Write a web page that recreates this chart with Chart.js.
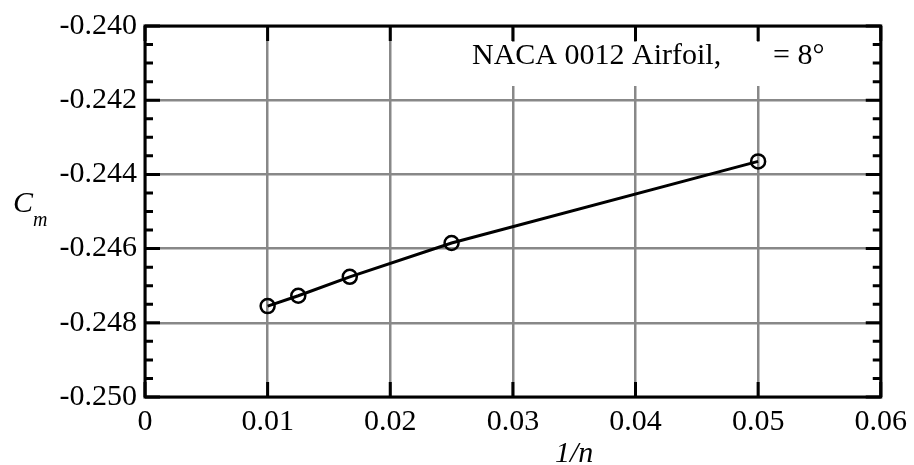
<!DOCTYPE html>
<html>
<head>
<meta charset="utf-8">
<script src="https://cdn.jsdelivr.net/npm/chart.js@4.4.0/dist/chart.umd.min.js"></script>
<style>
  html, body { margin: 0; padding: 0; background: #fff; }
</style>
</head>
<body>
<canvas id="cmChart" width="914" height="465"></canvas>
<script>
// Cm convergence against 1/n
const invN = [0.01, 0.0125, 0.0167, 0.025, 0.05];
const cmValues = [-0.24755, -0.24727, -0.24676, -0.24585, -0.24365];
const xTicks = [0, 0.01, 0.02, 0.03, 0.04, 0.05, 0.06];
const yTicks = [-0.250, -0.248, -0.246, -0.244, -0.242, -0.240];
const noteText = 'NACA 0012 Airfoil,';
const noteAngle = '= 8°';

const serif = '"Liberation Serif", "Times New Roman", serif';

// box, inner tick marks and axis titles
const frame = {
  id: 'frame',
  beforeDatasetsDraw(chart) {
    const { ctx, chartArea: a } = chart;
    const xs = chart.scales.x;
    ctx.save();
    ctx.fillStyle = '#fff';
    const bx = xs.getPixelForValue(0.02) + 2;
    ctx.fillRect(bx, a.top + 16, a.right - 2 - bx, 44);
    ctx.fillStyle = '#000';
    ctx.font = '30px ' + serif;
    ctx.textBaseline = 'alphabetic';
    ctx.fillText(noteText, 472, 64);
    ctx.fillText(noteAngle, 773, 64);
    ctx.restore();
  },
  afterDraw(chart) {
    const { ctx, chartArea: a } = chart;
    const xs = chart.scales.x, ys = chart.scales.y;
    ctx.save();
    ctx.strokeStyle = '#000';
    ctx.lineWidth = 3;
    ctx.beginPath();
    xTicks.forEach(v => {
      const px = xs.getPixelForValue(v);
      ctx.moveTo(px, a.bottom); ctx.lineTo(px, a.bottom - 15);
      ctx.moveTo(px, a.top); ctx.lineTo(px, a.top + 15);
    });
    yTicks.forEach((v, i) => {
      const py = ys.getPixelForValue(v);
      ctx.moveTo(a.left, py); ctx.lineTo(a.left + 15, py);
      ctx.moveTo(a.right, py); ctx.lineTo(a.right - 15, py);
      if (i < yTicks.length - 1) {
        const step = (yTicks[i + 1] - v) / 4;
        for (let k = 1; k < 4; k++) {
          const pm = ys.getPixelForValue(v + step * k);
          ctx.moveTo(a.left, pm); ctx.lineTo(a.left + 8, pm);
          ctx.moveTo(a.right, pm); ctx.lineTo(a.right - 8, pm);
        }
      }
    });
    ctx.stroke();
    ctx.strokeRect(a.left, a.top, a.right - a.left, a.bottom - a.top);

    ctx.fillStyle = '#000';
    ctx.font = 'italic 30px ' + serif;
    ctx.fillText('C', 13, 212);
    ctx.font = 'italic 20px ' + serif;
    ctx.fillText('m', 33, 226);
    ctx.font = 'italic 30px ' + serif;
    ctx.fillText('1/n', 555, 462);
    ctx.restore();
  }
};

const ctx = document.getElementById('cmChart').getContext('2d');
new Chart(ctx, {
  type: 'scatter',
  data: {
    datasets: [{
      data: invN.map((x, i) => ({ x: x, y: cmValues[i] })),
      showLine: true,
      borderColor: '#000',
      borderWidth: 3,
      pointRadius: 7,
      pointBorderWidth: 2.5,
      pointBorderColor: '#000',
      pointBackgroundColor: 'rgba(0,0,0,0)'
    }]
  },
  options: {
    responsive: false,
    animation: false,
    layout: { padding: { top: 24, right: 31, left: 0, bottom: 0 } },
    plugins: { legend: { display: false }, tooltip: { enabled: false } },
    scales: {
      x: {
        type: 'linear',
        min: 0,
        max: 0.06,
        afterBuildTicks: s => { s.ticks = xTicks.map(v => ({ value: v })); },
        afterFit: s => { s.height = 68; },
        grid: { color: '#888', lineWidth: 2.5, drawTicks: false },
        border: { display: false },
        ticks: {
          color: '#000',
          padding: 7,
          maxRotation: 0,
          font: { family: serif, size: 30 },
          callback: v => (v === 0 ? '0' : v.toFixed(2))
        }
      },
      y: {
        type: 'linear',
        min: -0.250,
        max: -0.240,
        afterBuildTicks: s => { s.ticks = yTicks.map(v => ({ value: v })); },
        afterFit: s => { s.width = 145; },
        grid: { color: '#888', lineWidth: 2.5, drawTicks: false },
        border: { display: false },
        ticks: {
          color: '#000',
          padding: 8,
          font: { family: serif, size: 30 },
          callback: v => v.toFixed(3)
        }
      }
    }
  },
  plugins: [frame]
});
</script>
</body>
</html>
